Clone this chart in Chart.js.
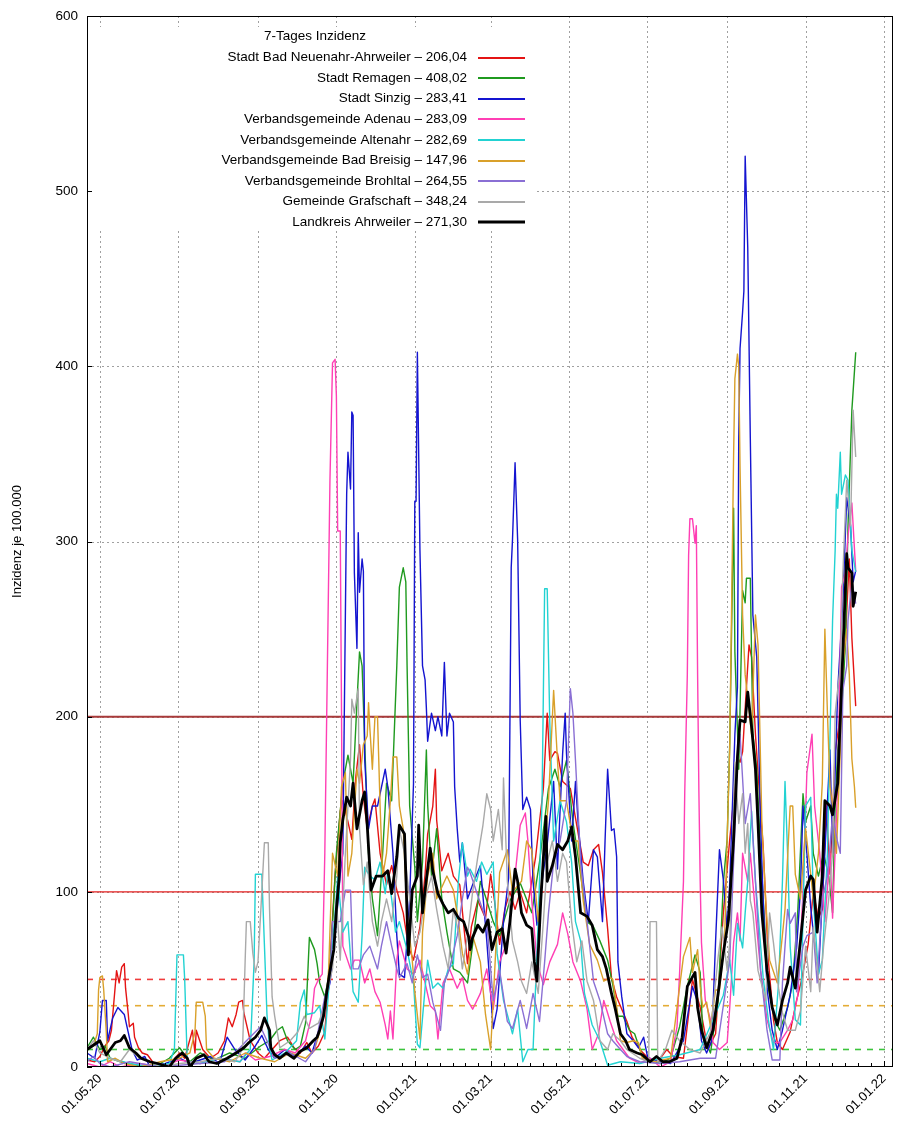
<!DOCTYPE html>
<html>
<head>
<meta charset="utf-8">
<script src="https://cdn.jsdelivr.net/npm/chart.js@4.4.1/dist/chart.umd.min.js"></script>
<style>
  html, body { margin: 0; padding: 0; background: #fff; }
  #wrap { width: 900px; height: 1122px; }
</style>
</head>
<body>
<div id="wrap"><canvas id="chart" width="900" height="1122"></canvas></div>
<script>
// Days are counted from 01.05.2020 (day 0); each series is a list of [day, incidence].
const START = Date.UTC(2020, 4, 1);
const X_MIN = -10, X_MAX = 617;

const xTickLabels = ['01.05.20', '01.07.20', '01.09.20', '01.11.20', '01.01.21', '01.03.21',
                     '01.05.21', '01.07.21', '01.09.21', '01.11.21', '01.01.22'];
const yTicks = [0, 100, 200, 300, 400, 500, 600];
const thresholds = [200, 100, 50, 35, 10];

const seriesNames = [
  'Stadt Bad Neuenahr-Ahrweiler', 'Stadt Remagen', 'Stadt Sinzig', 'Verbandsgemeinde Adenau',
  'Verbandsgemeinde Altenahr', 'Verbandsgemeinde Bad Breisig', 'Verbandsgemeinde Brohltal',
  'Gemeinde Grafschaft', 'Landkreis Ahrweiler'
];

const neuenahr = [[-10,4],[-4,3],[0,6],[4,12],[7,15],[9,21],[13,55],[15,48],[17,57],[19,59],[20,45],[22,31],[23,23],[26,25],[27,17],[30,11],[33,8],[37,7],[42,2],[51,0],[56,3],[62,8],[66,5],[72,21],[74,8],[75,21],[80,10],[86,5],[92,8],[97,15],[100,28],[103,23],[106,30],[108,37],[111,38],[112,31],[117,15],[123,8],[128,5],[134,10],[140,15],[146,17],[151,11],[156,8],[161,14],[165,8],[170,12],[175,20],[179,60],[183,110],[187,146],[189,152],[193,140],[196,130],[199,165],[202,184],[205,154],[208,136],[212,149],[214,153],[218,122],[223,104],[227,115],[231,101],[236,88],[240,69],[244,61],[249,80],[253,110],[255,133],[259,149],[261,170],[262,141],[266,112],[271,122],[275,109],[280,104],[286,59],[289,80],[294,95],[300,85],[304,110],[307,95],[311,70],[315,90],[319,100],[323,90],[327,100],[332,88],[339,120],[342,140],[345,159],[348,202],[350,175],[354,180],[356,179],[360,163],[366,159],[371,138],[376,117],[380,115],[384,124],[388,127],[391,111],[393,95],[395,79],[398,51],[402,40],[406,33],[410,26],[414,17],[420,10],[428,4],[434,3],[441,10],[446,6],[454,5],[458,30],[461,50],[467,34],[473,10],[479,19],[485,88],[490,130],[494,160],[496,177],[498,174],[500,180],[503,217],[505,241],[507,234],[510,190],[514,146],[516,126],[520,61],[524,27],[527,14],[531,10],[537,20],[542,38],[546,50],[551,70],[555,100],[559,85],[562,90],[565,150],[568,110],[572,180],[576,200],[580,245],[583,290],[585,245],[588,206.04]];

const remagen = [[-10,11],[-5,17],[0,10],[4,12],[8,5],[16,3],[23,2],[35,0],[47,2],[54,5],[62,11],[70,3],[78,8],[89,4],[101,8],[113,5],[125,12],[132,15],[138,21],[142,23],[146,15],[152,10],[156,12],[160,25],[163,74],[167,67],[169,59],[171,48],[175,40],[179,55],[184,122],[189,162],[193,178],[197,162],[200,208],[202,237],[204,229],[206,186],[209,122],[212,96],[216,75],[220,122],[223,162],[227,152],[231,229],[233,274],[236,285],[238,277],[239,229],[241,149],[245,114],[247,83],[251,117],[254,181],[255,150],[258,109],[262,136],[266,96],[270,77],[275,56],[280,54],[286,48],[290,70],[296,106],[301,95],[306,83],[311,75],[319,95],[327,105],[336,88],[342,117],[349,159],[354,170],[358,160],[363,175],[368,140],[374,110],[379,83],[384,80],[389,72],[395,61],[399,47],[403,29],[407,29],[412,21],[416,19],[422,6],[428,3],[436,2],[444,5],[451,23],[457,46],[463,64],[467,54],[469,19],[475,8],[481,38],[485,105],[488,130],[490,185],[493,319],[494,237],[497,170],[500,272],[502,265],[503,279],[506,279],[508,190],[511,170],[514,122],[518,71],[520,45],[525,27],[529,21],[535,34],[539,48],[543,90],[547,156],[549,140],[553,149],[555,122],[559,109],[563,122],[567,109],[570,88],[572,149],[574,181],[577,202],[580,242],[582,309],[585,375],[588,408.02]];

const sinzig = [[-10,8],[-4,5],[0,20],[2,38],[5,38],[6,15],[10,28],[14,34],[19,30],[22,20],[25,10],[29,4],[35,6],[39,0],[51,2],[62,5],[70,2],[78,4],[86,6],[93,2],[99,17],[105,10],[113,4],[121,12],[126,18],[131,10],[136,5],[144,10],[152,6],[160,12],[165,8],[170,20],[175,35],[179,48],[183,75],[187,110],[189,122],[192,327],[193,351],[195,330],[196,374],[197,372],[198,282],[200,239],[201,305],[202,271],[204,290],[205,283],[206,176],[209,136],[212,149],[216,149],[222,170],[224,160],[228,122],[231,75],[233,53],[237,51],[241,96],[244,162],[245,323],[246,323],[247,408],[249,295],[251,229],[253,221],[254,205],[255,186],[258,202],[261,192],[263,200],[266,189],[268,231],[270,189],[272,202],[275,197],[276,160],[278,136],[280,117],[282,128],[286,96],[288,100],[290,104],[296,115],[301,72],[306,22],[309,33],[314,83],[318,108],[320,285],[321,301],[323,345],[325,301],[327,198],[329,147],[332,154],[335,147],[337,106],[340,81],[344,106],[348,127],[353,163],[356,113],[360,179],[362,202],[363,179],[367,129],[370,163],[372,140],[376,106],[380,83],[384,124],[387,120],[391,83],[393,129],[395,170],[398,135],[400,136],[402,120],[403,60],[406,40],[410,19],[415,15],[419,11],[423,17],[426,6],[430,4],[444,2],[454,15],[461,46],[465,37],[468,15],[472,8],[476,15],[479,72],[482,124],[485,107],[488,78],[490,105],[494,190],[496,217],[497,359],[498,410],[500,431],[501,443],[502,520],[504,468],[506,359],[508,258],[511,234],[514,139],[516,95],[519,45],[523,21],[527,10],[531,21],[537,41],[542,68],[545,101],[547,149],[550,122],[553,91],[555,77],[559,53],[562,96],[564,122],[568,181],[570,122],[574,215],[578,266],[581,325],[584,309],[586,277],[588,283.41]];

const adenau = [[-10,2],[0,0],[8,3],[16,0],[31,2],[47,0],[62,4],[78,2],[93,5],[109,3],[114,8],[121,4],[132,6],[144,10],[152,8],[160,15],[165,30],[167,45],[170,50],[173,53],[175,122],[177,229],[179,335],[181,402],[183,404],[184,383],[185,306],[187,306],[188,202],[189,69],[195,56],[198,61],[202,61],[206,48],[210,56],[214,43],[218,37],[222,24],[224,16],[226,32],[228,16],[231,61],[233,72],[239,56],[244,53],[249,61],[253,48],[257,35],[261,32],[263,16],[267,48],[272,56],[278,45],[282,51],[286,38],[290,33],[296,42],[301,56],[306,33],[311,60],[317,72],[321,95],[327,138],[331,145],[333,129],[336,95],[340,60],[345,47],[350,60],[356,70],[360,88],[364,76],[368,60],[374,49],[379,33],[383,10],[388,19],[392,38],[397,26],[402,15],[407,10],[412,5],[420,2],[428,5],[436,0],[444,3],[449,23],[451,54],[454,106],[455,157],[457,224],[458,292],[459,313],[461,313],[463,299],[464,309],[465,224],[466,157],[467,106],[468,71],[471,38],[475,27],[477,14],[482,10],[488,14],[490,34],[493,71],[496,88],[498,72],[500,122],[504,106],[506,122],[510,88],[514,55],[519,27],[524,14],[529,14],[535,21],[539,27],[543,41],[547,100],[550,168],[554,190],[556,149],[560,122],[564,83],[568,122],[570,85],[574,162],[577,274],[580,282],[582,303],[585,322],[588,283.09]];

const altenahr = [[-10,5],[0,3],[8,5],[23,2],[39,0],[54,2],[58,10],[60,64],[65,64],[66,50],[68,3],[78,2],[93,5],[109,3],[117,10],[120,60],[121,110],[126,110],[128,70],[130,30],[132,11],[134,4],[144,8],[153,15],[156,37],[159,44],[161,30],[167,31],[171,35],[175,16],[179,53],[183,88],[185,109],[189,77],[193,83],[197,43],[201,37],[204,75],[206,114],[210,109],[214,107],[218,117],[222,99],[224,112],[227,96],[230,77],[233,83],[239,67],[244,48],[247,13],[249,11],[253,45],[255,61],[259,45],[263,48],[267,45],[271,56],[275,59],[279,107],[282,128],[286,109],[288,113],[293,106],[297,117],[301,110],[306,117],[309,65],[314,38],[321,19],[325,33],[329,3],[333,10],[337,10],[341,83],[344,152],[346,273],[348,273],[350,197],[353,129],[358,152],[363,140],[367,117],[370,83],[374,72],[377,42],[383,24],[389,15],[395,1],[405,3],[420,2],[436,5],[451,7],[467,10],[477,27],[485,41],[490,61],[493,41],[496,82],[500,68],[502,88],[504,106],[507,146],[510,106],[512,88],[516,51],[520,27],[524,10],[528,48],[531,106],[533,163],[535,122],[537,69],[541,27],[545,24],[549,149],[553,154],[555,96],[559,53],[562,61],[566,122],[568,189],[570,255],[572,295],[573,327],[574,319],[576,351],[577,327],[580,338],[582,335],[585,295],[588,282.69]];

const breisig = [[-10,10],[-5,12],[-2,19],[-1,44],[0,51],[2,52],[3,44],[5,20],[6,3],[12,5],[19,2],[31,0],[47,3],[62,5],[70,8],[74,20],[75,37],[80,37],[82,29],[83,10],[89,5],[101,3],[113,8],[125,5],[136,3],[148,8],[160,5],[167,10],[173,25],[177,46],[178,56],[181,122],[185,109],[188,160],[191,168],[193,109],[196,122],[200,170],[202,162],[205,184],[208,189],[209,208],[210,194],[212,170],[214,200],[216,200],[218,149],[220,109],[223,122],[226,152],[228,177],[231,177],[233,149],[236,136],[239,88],[243,61],[245,43],[249,16],[251,77],[255,109],[259,122],[262,96],[265,101],[270,109],[275,101],[279,83],[282,65],[286,53],[290,75],[296,60],[300,30],[304,10],[306,38],[311,111],[317,124],[321,100],[328,106],[332,129],[336,124],[341,83],[345,117],[349,152],[353,215],[356,175],[358,152],[363,152],[368,129],[372,129],[376,95],[381,70],[387,61],[392,49],[397,51],[399,50],[402,34],[405,15],[410,14],[415,15],[419,14],[422,5],[432,3],[444,5],[454,63],[459,74],[461,54],[465,67],[467,46],[469,34],[472,37],[475,23],[479,44],[482,44],[486,72],[488,130],[490,183],[493,349],[494,393],[496,407],[497,400],[498,343],[500,258],[502,224],[507,190],[510,258],[512,241],[515,139],[518,95],[521,61],[527,48],[529,61],[533,90],[537,149],[539,149],[541,110],[545,96],[549,136],[553,110],[555,96],[559,122],[562,162],[564,250],[566,202],[568,160],[570,149],[573,122],[576,181],[578,229],[581,250],[583,224],[585,176],[587,160],[588,147.96]];

const brohltal = [[-10,3],[-5,6],[0,2],[8,0],[23,3],[47,0],[78,2],[97,3],[109,11],[114,15],[125,23],[130,15],[136,5],[148,8],[160,3],[167,10],[175,40],[179,50],[181,83],[187,83],[191,101],[195,101],[197,56],[201,56],[205,64],[210,69],[216,56],[219,69],[223,83],[227,69],[231,56],[233,51],[239,59],[243,48],[247,64],[251,51],[255,53],[259,37],[265,21],[268,48],[272,56],[278,75],[282,96],[286,114],[288,111],[293,100],[301,83],[306,38],[311,55],[317,26],[321,22],[327,38],[332,22],[337,42],[342,26],[346,60],[349,88],[353,117],[358,129],[363,152],[366,216],[368,202],[370,175],[374,117],[379,83],[384,49],[389,38],[395,19],[399,15],[405,10],[410,6],[420,3],[436,2],[451,3],[467,5],[479,5],[486,40],[490,61],[496,173],[498,190],[502,139],[506,156],[510,106],[514,55],[519,21],[523,4],[529,4],[531,48],[535,90],[537,82],[541,88],[542,43],[547,69],[550,75],[555,77],[558,48],[562,96],[566,109],[570,144],[574,128],[576,122],[578,215],[581,229],[582,255],[585,277],[588,264.55]];

const grafschaft = [[-10,10],[-5,15],[0,8],[8,5],[16,3],[23,10],[31,5],[39,3],[47,0],[62,2],[78,3],[93,5],[105,3],[111,10],[113,60],[114,83],[117,83],[119,65],[121,54],[123,60],[126,100],[128,128],[131,128],[132,90],[134,40],[136,29],[140,11],[148,15],[154,20],[159,29],[163,22],[170,25],[175,35],[179,50],[181,56],[184,96],[187,61],[191,122],[195,176],[196,210],[198,202],[201,216],[202,136],[205,104],[208,117],[212,83],[216,69],[219,83],[223,96],[227,83],[231,109],[233,136],[237,122],[241,96],[245,69],[249,77],[253,96],[258,109],[262,90],[267,69],[271,56],[275,90],[279,77],[282,56],[286,75],[290,100],[294,120],[298,138],[301,156],[304,147],[306,129],[310,147],[313,124],[314,165],[317,106],[321,72],[325,60],[328,49],[332,42],[336,60],[341,42],[345,83],[348,117],[352,129],[356,106],[360,122],[363,117],[367,83],[371,60],[375,72],[379,49],[384,38],[389,15],[395,10],[399,19],[405,15],[410,10],[420,5],[427,3],[428,83],[433,83],[434,3],[440,10],[445,21],[451,15],[459,10],[467,8],[475,20],[481,63],[484,80],[488,55],[490,71],[494,174],[497,139],[500,156],[502,122],[504,139],[506,95],[508,88],[512,55],[518,38],[521,88],[524,71],[528,45],[531,31],[535,21],[541,21],[545,32],[549,69],[553,43],[555,80],[560,43],[563,69],[567,96],[570,122],[572,202],[576,229],[578,282],[581,335],[584,309],[586,375],[588,348.24]];

const landkreis = [[-10,10],[-6,12],[0,15],[5,7],[12,14],[16,15],[19,18],[23,11],[28,8],[32,5],[39,3],[45,2],[54,0],[59,5],[64,8],[68,5],[70,0],[75,5],[81,7],[85,3],[91,2],[99,5],[106,8],[112,11],[116,14],[121,17],[125,21],[128,28],[132,21],[133,11],[136,7],[140,5],[145,8],[151,5],[156,9],[161,11],[166,15],[169,17],[171,21],[174,29],[176,40],[179,55],[182,67],[184,90],[186,107],[187,128],[189,141],[192,154],[195,149],[197,162],[200,136],[204,152],[206,157],[208,138],[211,101],[215,109],[220,109],[224,112],[227,99],[231,120],[233,138],[237,133],[240,64],[243,101],[247,109],[248,138],[251,88],[253,101],[257,125],[259,112],[263,99],[267,93],[271,88],[275,90],[279,85],[283,83],[287,74],[288,67],[290,74],[294,81],[298,77],[302,84],[305,67],[309,77],[313,79],[316,65],[319,83],[323,113],[325,106],[328,88],[332,81],[336,79],[338,60],[340,49],[343,95],[347,143],[348,106],[352,115],[356,127],[360,124],[364,129],[367,137],[370,120],[374,88],[379,86],[383,81],[387,67],[391,63],[394,56],[398,42],[401,33],[405,19],[409,15],[412,10],[418,8],[422,7],[428,3],[433,6],[438,3],[443,3],[449,5],[453,17],[457,46],[463,54],[465,34],[468,21],[472,11],[477,21],[481,42],[485,65],[489,84],[493,130],[496,177],[498,198],[502,197],[504,214],[507,194],[510,170],[512,139],[515,88],[519,55],[523,34],[527,24],[531,38],[535,48],[537,57],[541,45],[545,72],[549,101],[553,109],[555,107],[558,77],[562,109],[564,152],[568,149],[570,144],[574,162],[577,218],[581,293],[582,285],[585,282],[586,263],[588,271.30]];

const seriesData = [neuenahr, remagen, sinzig, adenau, altenahr, breisig, brohltal, grafschaft, landkreis];

// Line styles, in the same order as the series
const seriesColors = ['#e41414', '#1f9a1f', '#1414d0', '#ff3fb4', '#22d2d2', '#d9a02a', '#8a6fd4', '#a9a9a9', '#000000'];
const seriesWidths = [1.4, 1.4, 1.4, 1.4, 1.4, 1.4, 1.4, 1.4, 2.8];
const keyWidths = [2, 2, 2, 2, 2, 2, 2, 2, 3];
const thresholdStyles = [
  { color: '#a83a3a', width: 2, dash: [] },
  { color: '#e42020', width: 1.3, dash: [] },
  { color: '#f03c3c', width: 1.6, dash: [6, 6] },
  { color: '#e4ac36', width: 1.6, dash: [6, 6] },
  { color: '#3cc43c', width: 1.6, dash: [6, 6] }
];

const FONT = '"Liberation Sans", Arial, Helvetica, sans-serif';
Chart.defaults.font.family = FONT;
Chart.defaults.color = '#000';

function dayOf(label) {
  const [dd, mm, yy] = label.split('.').map(Number);
  return Math.round((Date.UTC(2000 + yy, mm - 1, dd) - START) / 86400000);
}
const majorDays = xTickLabels.map(dayOf);
const labelByDay = new Map(xTickLabels.map((l, i) => [majorDays[i], l]));
const minorDays = [];
for (let i = 0; i < majorDays.length - 1; i++) {
  const a = majorDays[i], b = majorDays[i + 1];
  for (let k = 1; k < 6; k++) minorDays.push(a + (b - a) * k / 6);
}
const fmt = v => v.toFixed(2).replace('.', ',');

const datasets = [];
thresholds.forEach((v, i) => {
  datasets.push({
    label: 'Grenzwert ' + v,
    data: [{ x: X_MIN, y: v }, { x: X_MAX, y: v }],
    borderColor: thresholdStyles[i].color,
    borderWidth: thresholdStyles[i].width,
    borderDash: thresholdStyles[i].dash,
    pointRadius: 0,
    order: 100 + i,
    isReference: true
  });
});
seriesData.forEach((s, i) => {
  datasets.push({
    label: seriesNames[i] + ' \u2013 ' + fmt(s[s.length - 1][1]),
    data: s.map(([x, y]) => ({ x, y })),
    borderColor: seriesColors[i],
    borderWidth: seriesWidths[i],
    keyWidth: keyWidths[i],
    pointRadius: 0,
    tension: 0,
    borderJoinStyle: 'round',
    order: seriesData.length - i
  });
});

// Key box geometry (the box blanks the grid behind it)
const KEY = { left: 90, top: 27, right: 535, bottom: 231, titleX: 315, titleY: 36,
              textRight: 467, lineStart: 478, lineEnd: 525, firstRow: 57.5, rowStep: 20.6 };

const frameAndKey = {
  id: 'frameAndKey',
  beforeDatasetsDraw(chart) {
    const { ctx, chartArea: a, scales: { x, y } } = chart;
    ctx.save();
    ctx.strokeStyle = '#a0a0a0';
    ctx.lineWidth = 1;
    ctx.setLineDash([2, 3]);
    ctx.beginPath();
    majorDays.forEach(d => {
      if (d <= X_MIN || d >= X_MAX) return;
      const p = Math.round(x.getPixelForValue(d)) + 0.5;
      ctx.moveTo(p, a.top); ctx.lineTo(p, a.bottom);
    });
    yTicks.forEach(v => {
      if (v <= 0 || v >= 600) return;
      const p = Math.round(y.getPixelForValue(v)) + 0.5;
      ctx.moveTo(a.left, p); ctx.lineTo(a.right, p);
    });
    ctx.stroke();
    ctx.setLineDash([]);
    ctx.fillStyle = '#fff';
    ctx.fillRect(KEY.left, KEY.top, KEY.right - KEY.left, KEY.bottom - KEY.top);
    ctx.restore();
  },
  afterDatasetsDraw(chart) {
    const { ctx, chartArea: a, scales: { x, y } } = chart;
    ctx.save();
    // tick marks, pointing inward from the bottom and left axes
    ctx.strokeStyle = '#000';
    ctx.lineWidth = 1;
    ctx.beginPath();
    const tickX = (d, len) => {
      const p = Math.round(x.getPixelForValue(d)) + 0.5;
      ctx.moveTo(p, a.bottom); ctx.lineTo(p, a.bottom - len);
    };
    majorDays.forEach(d => tickX(d, 6));
    minorDays.forEach(d => tickX(d, 4));
    yTicks.forEach(v => {
      const p = Math.round(y.getPixelForValue(v)) + 0.5;
      ctx.moveTo(a.left, p); ctx.lineTo(a.left + 5, p);
    });
    ctx.stroke();
    // plot frame
    ctx.strokeRect(Math.round(a.left) + 0.5, Math.round(a.top) + 0.5,
                   Math.round(a.right - a.left) - 1, Math.round(a.bottom - a.top) - 1);
    // key
    ctx.fillStyle = '#000';
    ctx.font = '13.5px ' + FONT;
    ctx.textBaseline = 'middle';
    ctx.textAlign = 'center';
    ctx.fillText('7-Tages Inzidenz', KEY.titleX, KEY.titleY);
    ctx.textAlign = 'right';
    const series = chart.data.datasets.filter(ds => !ds.isReference);
    series.forEach((ds, i) => {
      const yy = KEY.firstRow + i * KEY.rowStep;
      ctx.fillStyle = '#000';
      ctx.fillText(ds.label, KEY.textRight, yy);
      ctx.strokeStyle = ds.borderColor;
      ctx.lineWidth = ds.keyWidth;
      ctx.beginPath();
      ctx.moveTo(KEY.lineStart, Math.round(yy));
      ctx.lineTo(KEY.lineEnd, Math.round(yy));
      ctx.stroke();
    });
    ctx.restore();
  }
};

new Chart(document.getElementById('chart'), {
  type: 'line',
  data: { datasets },
  options: {
    responsive: false,
    animation: false,
    devicePixelRatio: 1,
    layout: { padding: { top: 16, right: 7, left: 0, bottom: 0 } },
    plugins: { legend: { display: false }, tooltip: { enabled: false } },
    elements: { line: { tension: 0 } },
    scales: {
      x: {
        type: 'linear',
        min: X_MIN,
        max: X_MAX,
        grid: { display: false, drawTicks: false },
        border: { display: false },
        afterBuildTicks: s => { s.ticks = majorDays.map(v => ({ value: v })); },
        afterFit: s => { s.height = 55; s.paddingLeft = 0; s.paddingRight = 0; },
        ticks: {
          autoSkip: false, minRotation: 45, maxRotation: 45, padding: 4,
          color: '#000', font: { size: 13, family: FONT },
          callback: v => labelByDay.get(v) ?? ''
        }
      },
      y: {
        min: 0,
        max: 600,
        grid: { display: false, drawTicks: false },
        border: { display: false },
        afterBuildTicks: s => { s.ticks = yTicks.map(v => ({ value: v })); },
        afterFit: s => { s.width = 87; s.paddingTop = 0; s.paddingBottom = 0; },
        ticks: { padding: 9, color: '#000', font: { size: 13.5, family: FONT } },
        title: {
          display: true, text: 'Inzidenz je 100.000', color: '#000',
          font: { size: 13, family: FONT }, padding: { top: 10, bottom: 0 }
        }
      }
    }
  },
  plugins: [frameAndKey]
});
</script>
</body>
</html>
